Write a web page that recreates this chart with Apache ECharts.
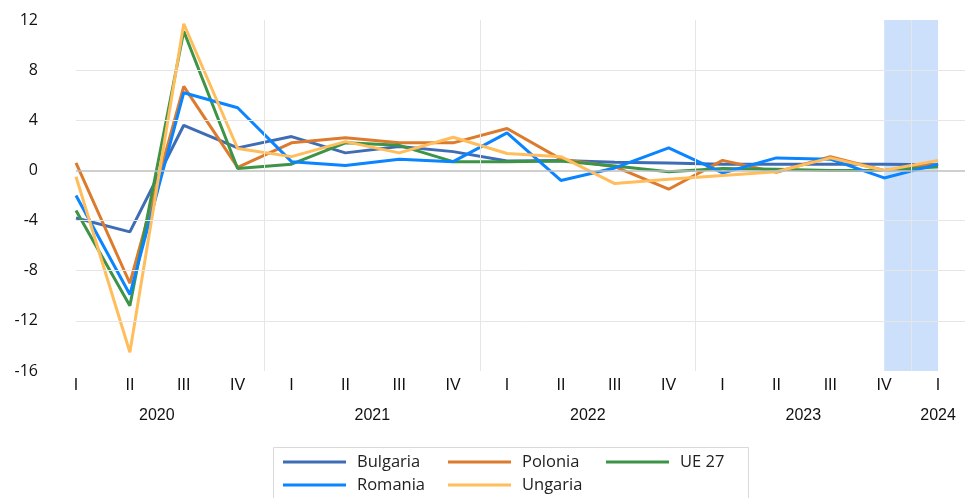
<!DOCTYPE html>
<html>
<head>
<meta charset="utf-8">
<script src="https://cdn.jsdelivr.net/npm/echarts@6/dist/echarts.min.js"></script>
<style>
  html, body { margin: 0; padding: 0; background: #fff; }
  #chart { width: 965px; height: 498px; }
</style>
</head>
<body>
<div id="chart"></div>
<script>
// quarters 2020 Q1 .. 2024 Q1
const quarters = ['I', 'II', 'III', 'IV', 'I', 'II', 'III', 'IV', 'I', 'II', 'III', 'IV', 'I', 'II', 'III', 'IV', 'I']
const years = ['2020', '2021', '2022', '2023', '2024']
const yearPos = [1.5, 5.5, 9.5, 13.5, 16]
const yearBreaks = [3.5, 7.5, 11.5, 15.5]
const gridValues = [8, 4, -4, -8, -12]
const highlight = [15, 16]

const bulgaria = [-3.8, -4.9, 3.6, 1.8, 2.7, 1.4, 1.9, 1.5, 0.75, 0.8, 0.65, 0.6, 0.5, 0.5, 0.5, 0.5, 0.45]
const polonia = [0.6, -9.0, 6.7, 0.25, 2.2, 2.6, 2.2, 2.2, 3.35, 0.9, 0.3, -1.5, 0.8, -0.15, 1.1, 0.0, 0.5]
const ue27 = [-3.2, -10.8, 11.1, 0.15, 0.5, 2.2, 2.0, 0.7, 0.7, 0.75, 0.35, -0.1, 0.15, 0.1, 0.0, 0.0, 0.3]
const romania = [-2.0, -9.9, 6.2, 5.0, 0.7, 0.4, 0.9, 0.7, 3.0, -0.8, 0.2, 1.8, -0.2, 1.0, 0.9, -0.6, 0.5]
const ungaria = [-0.5, -14.5, 11.7, 1.75, 1.1, 2.3, 1.4, 2.65, 1.35, 1.1, -1.05, -0.7, -0.4, -0.1, 1.0, 0.0, 0.8]

const names = ['Bulgaria', 'Polonia', 'UE 27', 'Romania', 'Ungaria']
const colors = ['#3f6db5', '#dc7b2e', '#3d9447', '#0a84ff', '#ffbd5c']
const values = [bulgaria, polonia, ue27, romania, ungaria]

const labelFont = 'Liberation Sans Narrow, Liberation Sans, sans-serif'

let seriesData = []
values.forEach((arr, i) => {
  seriesData.push({
    name: names[i],
    type: 'line',
    z: 3,
    color: colors[i],
    symbol: 'none',
    lineStyle: { width: 3 },
    data: arr.map((v, k) => [k, v]),
  })
})

// background band + grid lines, drawn under the series
seriesData.unshift({
  type: 'line',
  z: 1,
  data: [],
  silent: true,
  markLine: {
    symbol: 'none',
    silent: true,
    label: { show: false },
    lineStyle: { color: '#e6e6e6', width: 1, type: 'solid' },
    data: [
      ...gridValues.map(v => ({ yAxis: v })),
      ...yearBreaks.map(v => ({ xAxis: v })),
      { yAxis: 0, lineStyle: { color: '#bfbfbf', width: 1.5, type: 'solid' } },
    ],
  },
})
seriesData.unshift({
  type: 'line',
  z: 0,
  data: [],
  silent: true,
  markArea: {
    silent: true,
    itemStyle: { color: '#cde0fb' },
    data: [[{ xAxis: highlight[0] }, { xAxis: highlight[1] }]],
  },
})

const legendBase = {
  orient: 'vertical',
  top: 453,
  height: 45,
  padding: 0,
  icon: 'rect',
  itemWidth: 63,
  itemHeight: 3,
  itemGap: 5,
  textStyle: {
    fontFamily: 'Open Sans, sans-serif',
    fontSize: 16.5,
    color: '#222',
    lineHeight: 18,
    padding: [0, 0, 0, 6],
  },
}

const option = {
  animation: false,
  grid: { left: 76, right: 0, top: 20, bottom: 127, containLabel: false },
  legend: [
    Object.assign({}, legendBase, { left: 283, data: ['Bulgaria', 'Romania'] }),
    Object.assign({}, legendBase, { left: 448, data: ['Polonia', 'Ungaria'] }),
    Object.assign({}, legendBase, { left: 606, data: ['UE 27'] }),
  ],
  graphic: [{
    type: 'rect',
    shape: { x: 273.5, y: 447.5, width: 475, height: 60 },
    style: { fill: 'none', stroke: '#d9d9d9', lineWidth: 1 },
    silent: true,
  }],
  xAxis: [
    {
      type: 'value',
      min: 0,
      max: 16.5,
      axisLine: { show: false },
      axisTick: { show: false },
      splitLine: { show: false },
      axisLabel: {
        customValues: quarters.map((q, i) => i),
        formatter: v => quarters[v],
        margin: 7,
        color: '#111',
        fontSize: 16,
        fontFamily: labelFont,
      },
    },
    {
      type: 'value',
      position: 'bottom',
      offset: 30,
      min: 0,
      max: 16.5,
      axisLine: { show: false },
      axisTick: { show: false },
      splitLine: { show: false },
      axisLabel: {
        customValues: yearPos,
        formatter: v => years[yearPos.indexOf(v)],
        margin: 7,
        color: '#111',
        fontSize: 16,
        fontFamily: labelFont,
      },
    },
  ],
  yAxis: {
    type: 'value',
    min: -16,
    max: 12,
    interval: 4,
    axisLine: { show: false },
    axisTick: { show: false },
    splitLine: { show: false },
    axisLabel: {
      margin: 38,
      color: '#111',
      fontSize: 16,
      fontFamily: 'Open Sans, sans-serif',
    },
  },
  series: seriesData,
}

const myChart = echarts.init(document.getElementById('chart'))
myChart.setOption(option)
</script>
</body>
</html>
